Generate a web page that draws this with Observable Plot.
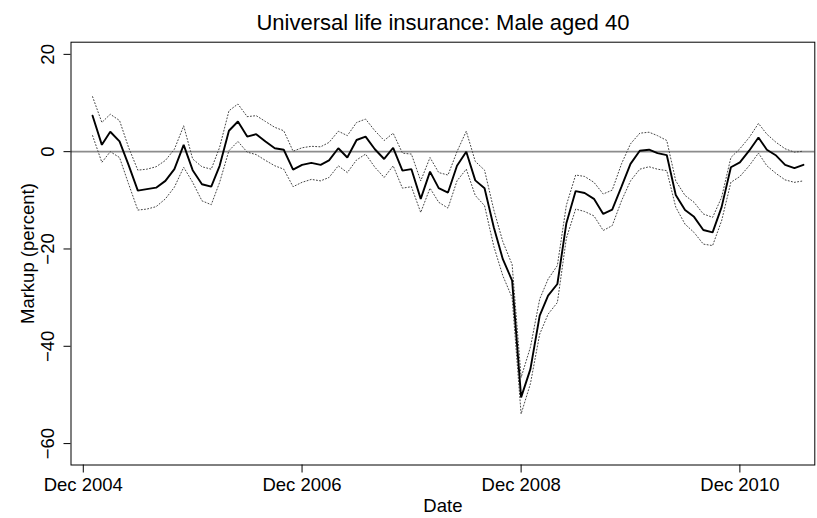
<!DOCTYPE html>
<html>
<head>
<meta charset="utf-8">
<script src="https://cdn.jsdelivr.net/npm/d3@7"></script>
<script src="https://cdn.jsdelivr.net/npm/@observablehq/plot@0.6"></script>
<style>
  html, body { margin: 0; padding: 0; background: #fff; }
  #chart svg { display: block; }
</style>
</head>
<body>
<div id="chart"></div>
<script>
// Monthly observations, January 2005 through July 2011
const firstMonth = new Date(Date.UTC(2005, 0, 1));
const endMonth = new Date(Date.UTC(2011, 7, 1));
const months = d3.utcMonths(firstMonth, endMonth);

// Estimated markup (percent)
const markup = [
  7.4, 1.4, 4.1, 2.1, -2.7, -8.0, -7.7, -7.4, -6.0, -3.6,
  1.4, -3.8, -6.7, -7.2, -2.9, 4.3, 6.2, 3.1, 3.6, 2.1,
  0.7, 0.4, -3.7, -2.7, -2.3, -2.7, -1.8, 0.7, -1.2, 2.4,
  3.1, 0.5, -1.5, 0.8, -3.9, -3.6, -9.7, -4.1, -7.5, -8.4,
  -2.9, 0.0, -5.9, -7.5, -15.6, -22.1, -26.5, -50.5, -44.7, -33.7,
  -29.6, -27.2, -14.7, -8.1, -8.5, -9.7, -12.8, -11.9, -7.2, -2.5,
  0.2, 0.4, -0.3, -0.7, -8.9, -12.0, -13.4, -16.1, -16.6, -11.4,
  -3.2, -2.2, 0.2, 2.9, 0.4, -0.8, -2.7, -3.4, -2.7
];

// Upper confidence bound
const upper = [
  11.3, 6.0, 7.7, 6.4, 0.9, -3.8, -3.6, -3.1, -1.8, 0.5,
  5.3, -1.5, -3.1, -3.6, 0.9, 8.4, 9.8, 7.2, 7.4, 6.2,
  5.0, 4.3, 0.1, 0.8, 1.1, 1.0, 1.9, 4.2, 3.3, 6.0,
  6.7, 4.3, 2.3, 3.8, -0.3, -0.5, -6.0, -1.2, -4.3, -4.8,
  0.0, 4.2, -2.0, -3.8, -12.0, -18.5, -23.2, -46.4, -40.2, -30.3,
  -26.2, -23.4, -11.0, -4.8, -5.1, -6.3, -8.7, -7.9, -2.5, 1.6,
  3.8, 4.0, 3.3, 2.3, -6.0, -9.0, -10.4, -12.8, -13.5, -9.4,
  -1.2, 0.6, 2.9, 5.8, 3.6, 1.9, 0.6, -0.1, 0.1
];

// Lower confidence bound
const lower = [
  3.3, -2.2, 0.0, -1.2, -6.6, -12.0, -11.8, -11.3, -9.7, -7.3,
  -3.2, -6.3, -10.1, -10.9, -6.3, 0.2, 2.1, -0.1, -0.6, -1.8,
  -2.9, -3.6, -7.2, -6.3, -5.7, -6.0, -5.3, -2.9, -4.3, -1.7,
  -0.5, -3.2, -5.3, -2.9, -7.5, -7.2, -12.5, -7.5, -10.4, -11.6,
  -6.0, -3.6, -9.0, -11.1, -19.5, -25.5, -30.0, -53.9, -47.7, -37.5,
  -33.4, -31.0, -17.8, -11.8, -12.3, -13.2, -16.2, -15.2, -10.1, -6.0,
  -3.6, -3.1, -3.6, -3.9, -11.4, -14.9, -16.6, -19.0, -19.3, -14.2,
  -6.3, -5.1, -2.9, -0.3, -2.9, -4.5, -5.8, -6.3, -6.0
];

// Axis ticks
const xTicks = [
  new Date(Date.UTC(2004, 11, 1)),
  new Date(Date.UTC(2006, 11, 1)),
  new Date(Date.UTC(2008, 11, 1)),
  new Date(Date.UTC(2010, 11, 1))
];
const xTickLabels = ["Dec 2004", "Dec 2006", "Dec 2008", "Dec 2010"];
const yTicks = [20, 0, -20, -40, -60];

const titleText = "Universal life insurance: Male aged 40";
const xLabel = "Date";
const yLabel = "Markup (percent)";

const series = months.map((date, i) => ({date, markup: markup[i], upper: upper[i], lower: lower[i]}));
const xTickData = xTicks.map((date, i) => ({date, label: xTickLabels[i]}));

const font = "'Liberation Sans', Arial, Helvetica, sans-serif";
const labelSize = 18.5;
const noText = () => "";

const chart = Plot.plot({
  width: 817,
  height: 518,
  marginLeft: 70.5,
  marginRight: 2.7,
  marginTop: 41.7,
  marginBottom: 53.5,
  style: {fontFamily: font, background: "#fff", color: "#000"},
  x: {type: "utc", domain: [new Date(Date.UTC(2004, 9, 21)), new Date(Date.UTC(2011, 7, 8))]},
  y: {domain: [-64.4, 22.5]},
  marks: [
    // reference line at zero
    Plot.ruleY([0], {stroke: "#8c8c8c", strokeWidth: 1.8}),
    // confidence bounds
    Plot.line(series, {x: "date", y: "upper", stroke: "#444", strokeWidth: 1, strokeDasharray: "1,2.2"}),
    Plot.line(series, {x: "date", y: "lower", stroke: "#444", strokeWidth: 1, strokeDasharray: "1,2.2"}),
    // estimate
    Plot.line(series, {x: "date", y: "markup", stroke: "#000", strokeWidth: 1.9, strokeLinejoin: "miter"}),
    Plot.frame({stroke: "#000", strokeWidth: 1}),
    // x axis: tick lines, then labels
    Plot.axisX({ticks: xTicks, tickSize: 8, tickFormat: noText, label: null, strokeWidth: 1}),
    Plot.text(xTickData, {x: "date", text: "label", frameAnchor: "bottom", lineAnchor: "bottom", dy: 25.5, fontSize: labelSize, fontFamily: font, fill: "#000"}),
    // y axis: tick lines, then rotated labels
    Plot.axisY({ticks: yTicks, tickSize: 7, tickFormat: noText, label: null, strokeWidth: 1}),
    Plot.text(yTicks, {y: d => d, text: d => String(d).replace("-", "\u2212"), frameAnchor: "left", rotate: -90, textAnchor: "middle", lineAnchor: "bottom", dx: -17.2, fontSize: labelSize, fontFamily: font, fill: "#000"}),
    // titles
    Plot.text([titleText], {frameAnchor: "top", lineAnchor: "bottom", dy: -12.7, fontSize: 22, fontFamily: font, fill: "#000"}),
    Plot.text([xLabel], {frameAnchor: "bottom", lineAnchor: "bottom", dy: 46.5, fontSize: labelSize, fontFamily: font, fill: "#000"}),
    Plot.text([yLabel], {frameAnchor: "left", rotate: -90, textAnchor: "middle", lineAnchor: "bottom", dx: -37.5, fontSize: labelSize, fontFamily: font, fill: "#000"})
  ]
});

document.getElementById("chart").appendChild(chart);
</script>
</body>
</html>
